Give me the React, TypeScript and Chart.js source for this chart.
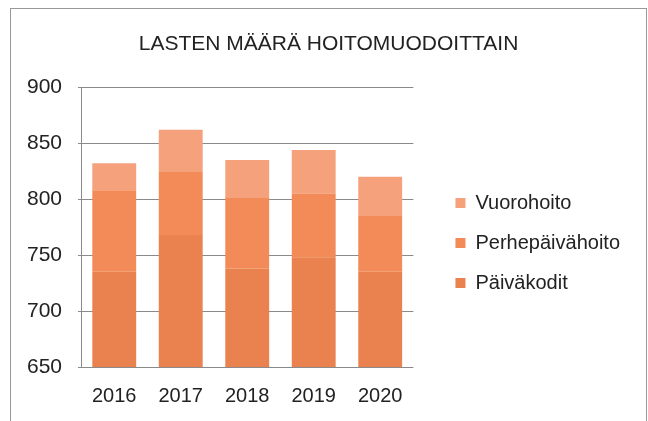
import React, { useEffect, useRef } from "react";
import { Chart, registerables } from "chart.js";

Chart.register(...registerables);

const titleText = "LASTEN MÄÄRÄ HOITOMUODOITTAIN";
const years = ["2016", "2017", "2018", "2019", "2020"];
const paivakodit = [735, 768, 738, 748, 735];
const perhepaivahoito = [73, 57, 63, 57, 50];
const vuorohoito = [24, 37, 34, 39, 35];
const yMin = 650;
const yMax = 900;
const yStep = 50;

const W = 635;
const H = 412;

export default function App() {
  const ref = useRef<HTMLCanvasElement | null>(null);
  useEffect(() => {
    if (!ref.current) return;
    const font = "'Liberation Sans', Arial, sans-serif";
    const chart = new Chart(ref.current, {
      type: "bar",
      data: {
        labels: years,
        datasets: [
          { label: "Päiväkodit", data: paivakodit, backgroundColor: "#E9824F" },
          { label: "Perhepäivähoito", data: perhepaivahoito, backgroundColor: "#F28B57" },
          { label: "Vuorohoito", data: vuorohoito, backgroundColor: "#F5A17C" },
        ],
      },
      options: {
        animation: false,
        responsive: false,
        layout: { padding: { left: 16, right: 16, top: 0, bottom: 4 } },
        datasets: { bar: { categoryPercentage: 1, barPercentage: 0.66 } },
        plugins: {
          title: {
            display: true,
            text: titleText,
            color: "#222",
            font: { family: font, size: 21, weight: "normal" },
            padding: { top: 23, bottom: 30 },
          },
          legend: {
            position: "right",
            reverse: true,
            maxWidth: 300,
            title: {
              display: true,
              text: " ",
              font: { family: font, size: 10, lineHeight: 1 },
              padding: { top: 50, bottom: 0 },
            },
            labels: {
              color: "#222",
              font: { family: font, size: 20 },
              boxWidth: 10,
              boxHeight: 10,
              padding: 20,
            },
          },
          tooltip: { enabled: false },
        },
        scales: {
          x: {
            stacked: true,
            grid: { display: false },
            border: { display: false },
            ticks: { color: "#222", font: { family: font, size: 20 }, padding: 9 },
          },
          y: {
            stacked: true,
            min: yMin,
            max: yMax,
            ticks: { stepSize: yStep, color: "#222", font: { family: font, size: 21 }, padding: 16 },
            grid: { color: "#8a8a8a", tickLength: 3 },
            border: { display: true, color: "#8a8a8a" },
            afterFit: (s: any) => { s.width = 54; },
          },
          y2: {
            position: "right",
            display: true,
            grid: { display: false },
            border: { display: false },
            ticks: { display: false },
            afterFit: (s: any) => { s.width = 22; },
          },
        },
      },
    });
    return () => chart.destroy();
  }, []);
  return (
    <div
      style={{
        position: "fixed",
        left: 10,
        top: 8,
        width: W + 2,
        height: H + 1,
        borderTop: "1px solid #999",
        borderLeft: "1px solid #999",
        borderRight: "1px solid #999",
        boxSizing: "border-box",
        background: "#fff",
      }}
    >
      <canvas ref={ref} width={W} height={H} style={{ display: "block", width: W, height: H }} />
    </div>
  );
}
